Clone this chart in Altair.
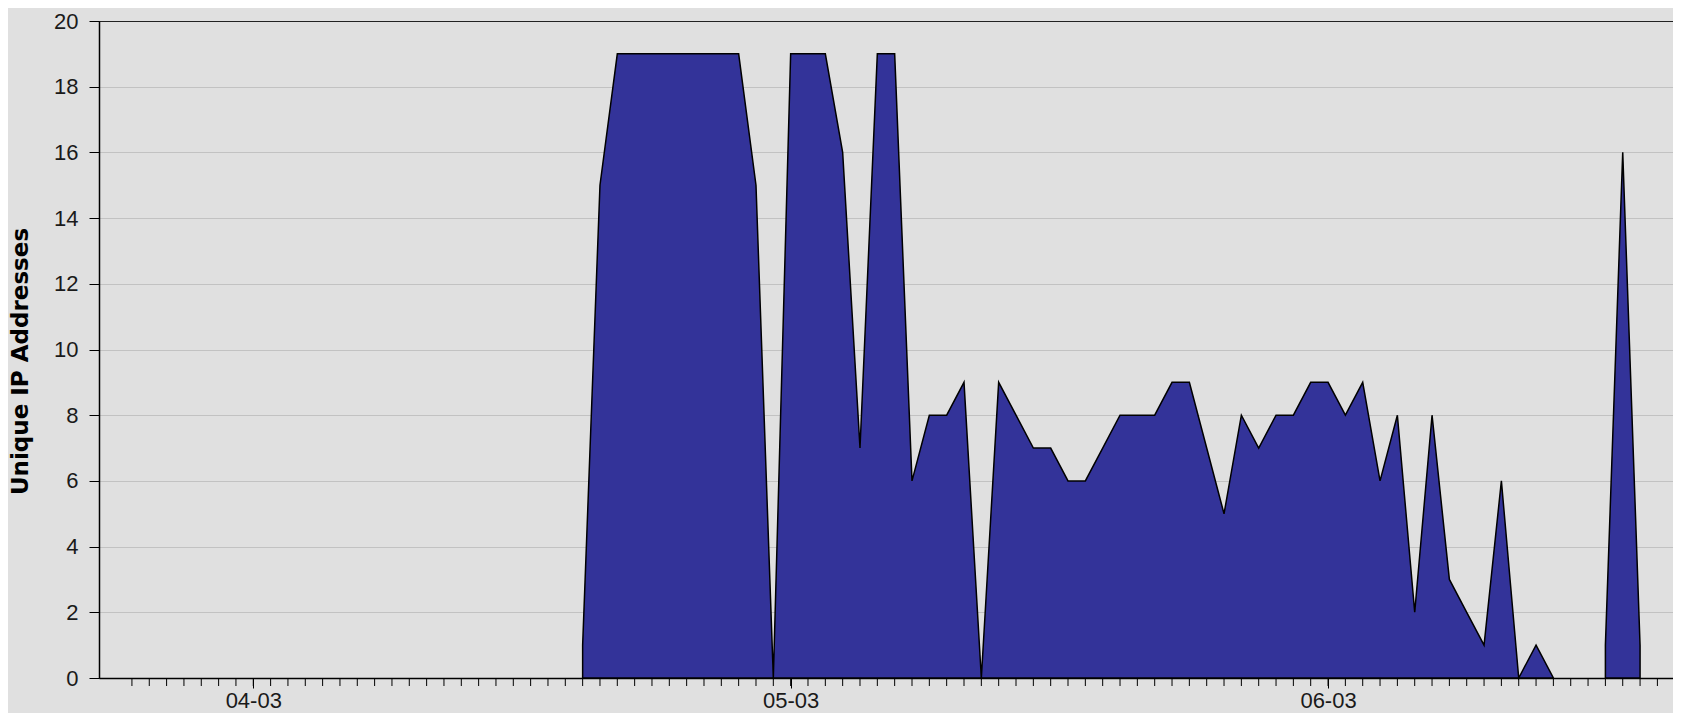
import altair as alt
import pandas as pd

# ---- data (day index 0 = first daily tick on the time axis) ----
BURST1_DAYS = list(range(26, 83))
BURST1_IPS = [1, 15, 19, 19, 19, 19, 19, 19, 19, 19, 15, 0, 19, 19, 19, 16, 7, 19, 19,
              6, 8, 8, 9, 0, 9, 8, 7, 7, 6, 6, 7, 8, 8, 8, 9, 9, 7, 5, 8, 7, 8, 8,
              9, 9, 8, 9, 6, 8, 2, 8, 3, 2, 1, 6, 0, 1, 0]
BURST2_DAYS = [85, 86, 87]
BURST2_IPS = [1, 16, 1]

DAY_TICKS = list(range(0, 89))          # daily minor ticks
LABEL_DAYS = [7, 38, 69]                # labelled ticks
LABEL_TEXT = ["04-03", "05-03", "06-03"]
Y_TICKS = list(range(0, 21, 2))
X_DOMAIN = [-1.9, 88.9]
Y_DOMAIN = [0, 20]

assert len(BURST1_DAYS) == len(BURST1_IPS)

df = pd.DataFrame({
    "day": BURST1_DAYS + BURST2_DAYS,
    "ips": BURST1_IPS + BURST2_IPS,
    "run": ["a"] * len(BURST1_DAYS) + ["b"] * len(BURST2_DAYS),
})
ticks_df = pd.DataFrame({"day": DAY_TICKS})

label_expr = " : ".join(
    f"datum.value == {d} ? '{t}'" for d, t in zip(LABEL_DAYS, LABEL_TEXT)
) + " : ''"

# plot area; total svg = 91+1574 wide, 13+657+35 tall (fits the window without scrolling)
W, H = 1574, 657
BG = "#e0e0e0"

x_scale = alt.Scale(domain=X_DOMAIN, nice=False, zero=False)
y_scale = alt.Scale(domain=Y_DOMAIN, nice=False)

x_axis = alt.Axis(
    values=LABEL_DAYS, labelExpr=label_expr, title=None, grid=False,
    tickSize=10, tickColor="black", tickWidth=1,
    domainColor="black", domainWidth=1.5,
    labelFont="Liberation Sans", labelFontSize=22, labelColor="#1a1a1a",
    labelPadding=2, labelBaseline="top", labelAlign="center",
    labelFlush=False, labelOverlap=False,
)

y_axis = alt.Axis(
    values=Y_TICKS, title="Unique IP Addresses", grid=True,
    gridColor={"condition": {"test": "datum.value == 20", "value": "#222222"}, "value": "#c2c2c2"},
    gridWidth=1,
    tickSize=10, tickColor="black", tickWidth=1,
    domainColor="black", domainWidth=1.5,
    labelFont="Liberation Sans", labelFontSize=22, labelColor="#1a1a1a",
    labelPadding=11,
    titleFont="DejaVu Sans", titleFontWeight="bold", titleFontSize=23,
    titleColor="black", titleAngle=270, titleAlign="center",
    titleBaseline="alphabetic", titleX=-72, titleY=340,
)

area = alt.Chart(df).mark_area(
    fill="#333399", stroke="black", strokeWidth=1.5, opacity=1
).encode(
    x=alt.X("day:Q", scale=x_scale, axis=x_axis),
    y=alt.Y("ips:Q", scale=y_scale, axis=y_axis, stack=None),
    detail="run:N",
)

minor = alt.Chart(ticks_df).mark_rule(color="black", strokeWidth=1).encode(
    x=alt.X("day:Q", scale=x_scale, axis=x_axis),
    y=alt.value(H),
    y2=alt.value(H + 8),
)

chart = alt.layer(area, minor).properties(
    width=W, height=H,
    autosize=alt.AutoSizeParams(type="none"),
    padding={"left": 91, "top": 13, "right": 0, "bottom": 35},
    background=BG,
).configure_view(fill=BG, stroke="black", strokeWidth=1)

chart.save("out.html", embed_options={"renderer": "svg", "actions": False})
